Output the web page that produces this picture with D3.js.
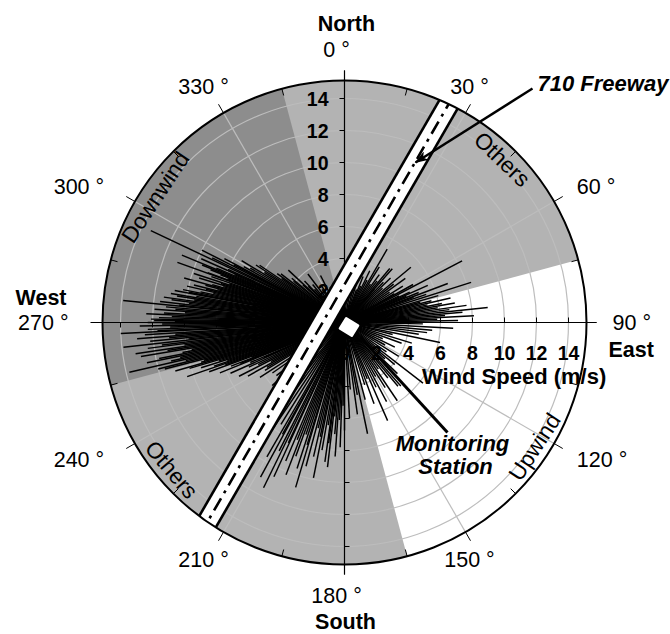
<!DOCTYPE html>
<html>
<head>
<meta charset="utf-8">
<script src="https://cdn.jsdelivr.net/npm/d3@7"></script>
<style>
  body { margin: 0; background: #fff; }
  svg text { font-family: "Liberation Sans", Arial, sans-serif; }
</style>
</head>
<body>
<svg id="chart" width="670" height="634"></svg>
<script>
// ---- data ----
var speedTicks = [2, 4, 6, 8, 10, 12, 14];
var axisLabelsEast = [0, 2, 4, 6, 8, 10, 12, 14];
var angleTicks = [0, 30, 60, 90, 120, 150, 180, 210, 240, 270, 300, 330];

// wind sectors (degrees, compass)
var sectorNames = ["Downwind", "Upwind"];
var sectorStart = [255, 75];
var sectorEnd = [345, 165];

var regionLabels = ["Others", "Downwind", "Others", "Upwind"];
var regionAngles = [44, 303.5, 229.6, 123.2];

var freewayAngle = 30;

// hourly wind observations [direction deg, speed m/s]
var westObs = [
  [240,5.6],[241,6.9],[242,5.2],[243,7.4],[244,6.0],[245,6.6],[246,7.8],[246.5,5.5],[247,6.4],[248,8.4],
  [248.5,7.0],[249,7.6],[249.5,6.2],[250,9.0],[250.5,7.9],[251,10.4],[251.5,8.6],[252,7.7],[252.5,9.4],[253,8.2],
  [253.5,10.1],[254,11.0],[254.5,9.3],[255,9.1],[255.5,11.6],[256,12.0],[256.5,10.2],[257,13.8],[257.5,11.1],[258,10.5],
  [258.5,12.6],[259,11.8],[259.5,10.3],[260,9.7],[260.5,12.9],[261,11.2],[261.5,13.2],[262,10.1],[262.5,12.4],[263,11.5],
  [263.6,13.9],[264,9.8],[264.5,12.2],[265,11.0],[265.5,13.0],[266,10.6],[266.5,12.5],[267.2,14.0],[267.5,11.7],[268,12.3],
  [268.5,10.9],[269,12.8],[269.5,11.4],[270,12.3],[270.3,10.6],[270.6,11.9],[271,12.1],[271.5,11.6],[272,10.8],[272.5,12.4],
  [273,11.3],[273.5,10.0],[274,11.9],[274.5,10.6],[275,11.2],[275.7,13.9],[276,10.4],[276.5,11.6],[277,9.8],[277.5,10.9],
  [278,11.4],[278.5,9.5],[279,10.6],[279.5,11.0],[280,9.4],[280.7,10.8],[281,9.9],[281.5,10.3],[282,9.2],[282.5,8.4],
  [283,10.1],[283.5,8.9],[284,9.7],[284.5,8.2],[285,9.0],[285.5,10.4],[286,8.6],[286.5,7.9],[287,9.5],[287.5,8.1],
  [288,9.9],[288.5,7.6],[289,8.8],[289.8,11.1],[290,9.1],[290.5,7.8],[291,8.3],[291.5,9.0],[292,9.6],[292.5,11.0],
  [293,8.7],[293.5,7.5],[294,9.8],[294.5,8.0],[295.4,13.4],[296,9.2],[296.9,10.0],[297.5,7.8],[298,8.5],[299,7.2],[300,6.8]
];
var northObs = [
  [301,7.5],[302,5.9],[303,6.6],[304,6.4],[305,4.8],[306,5.2],[307.4,5.0],[309,4.1],[310,4.3],[312,3.5],
  [313,4.8],[315,3.2],[316,3.6],[318,2.8],[320,3.1],[323,3.8],[326,2.5],[328,2.7],[331,2.2],[333,3.3],
  [336,2.0],[338,2.4],[342,1.8],[345,2.0],[350,2.1],[355,1.7],[0,1.5],[5,1.6],[10,1.8],[14,2.0],
  [17,2.7],[20,2.2],[22,3.1],[24,2.5],[26,3.6],[28,3.0]
];
var eastObs = [
  [30.2,5.3],[32,4.1],[34,2.9],[36,3.7],[38,3.3],[40,4.4],[41.6,4.5],[42,2.8],[44,3.5],[46,4.0],
  [48,3.2],[50.2,5.4],[52,3.9],[54,4.7],[56,3.4],[58,4.3],[60,3.6],[61,4.9],[62.3,8.3],[64,3.8],
  [65,4.5],[66,5.7],[67,4.2],[68,5.0],[69.3,6.9],[70,4.6],[71,5.4],[72.4,8.3],[74,6.1],[75,4.9],
  [76,5.6],[77,6.8],[78,5.3],[79,6.2],[80,7.0],[81,5.9],[82,7.7],[83,6.6],[84,9.0],[85,7.4],
  [86,6.3],[87,8.1],[88,5.8],[89,7.1],[91,4.9],[93,6.8],[95,5.5],[97,5.2],[99,4.7],[101.8,6.1],
  [104,3.1],[107,4.4],[110,3.8],[113,2.6],[116,3.5],[119,2.9],[122,4.0],[125,3.2],[127.7,6.2],[130,4.1],
  [132,3.4],[134,4.6],[136,3.9],[138.4,5.3],[140,5.2],[142,4.4],[144,3.6],[146,5.9],[148,4.8],[150,3.9],
  [152,5.6],[154,4.5],[156.3,6.7],[158,3.8],[160,5.4],[162,4.1],[165,5.0],[168.3,7.1],[170,4.6],[172,5.8],
  [175,4.2],[177,6.0]
];
var southObs = [
  [180,6.75],[181,5.2],[182,7.8],[183,6.1],[184,8.4],[185,7.0],[186,5.9],[186.7,9.1],[187.5,7.6],[188,8.8],
  [189,6.5],[190,8.1],[191.3,9.9],[192,7.3],[193,8.6],[194,6.8],[195,9.3],[196.5,10.75],[197,8.0],[198,9.6],
  [199,7.4],[200,8.9],[201,10.2],[202,7.9],[203,9.4],[204.6,10.6],[205,8.3],[206.1,11.5],[207,9.0],[208.5,11.0],
  [209,8.0],[210,9.7],[212,7.5],[214,8.6],[216,6.4],[218,7.2],[220,5.8],[223,6.5],[226,5.1],[229,6.0],
  [232,5.4],[235,5.5],[237,6.3],[239,5.8]
];

// ---- setup ----
var cx = 344.5, cy = 322.5, rOuter = 242;
var colors = {light: "#b3b3b3", dark: "#8d8d8d", grid: "#bdbdbd"};

var svg = d3.select("#chart");
var r = d3.scaleLinear().domain([0, 15.125]).range([0, rOuter]);
function rad(deg){ return deg * Math.PI / 180; }
function pt(deg, radius){ return d3.pointRadial(rad(deg), radius); }

var defs = svg.append("defs");
defs.append("clipPath").attr("id", "disc")
  .append("circle").attr("r", rOuter);
defs.append("marker")
    .attr("id", "arrow")
    .attr("viewBox", "0 0 14 10")
    .attr("refX", 13).attr("refY", 5)
    .attr("markerWidth", 14).attr("markerHeight", 10)
    .attr("markerUnits", "userSpaceOnUse")
    .attr("orient", "auto")
  .append("path")
    .attr("d", "M0,0 L14,5 L0,10 L4,5 Z")
    .attr("fill", "#000");

var g = svg.append("g").attr("transform", "translate(" + cx + "," + cy + ")");

// background + sectors
g.append("circle").attr("r", rOuter).attr("fill", colors.light);
var sectorArc = d3.arc().innerRadius(0).outerRadius(rOuter)
  .startAngle(function(d, i){ return rad(sectorStart[i]); })
  .endAngle(function(d, i){ return rad(sectorEnd[i]); });
g.selectAll(".sector")
    .data(sectorNames)
  .enter().append("path")
    .attr("class", "sector")
    .attr("d", function(d, i){ return sectorArc(d, i); })
    .attr("fill", function(d){ return d == "Downwind" ? colors.dark : "#fff"; });

// grid rings + spokes
g.selectAll(".ring")
    .data(speedTicks)
  .enter().append("circle")
    .attr("class", "ring")
    .attr("r", function(d){ return r(d); })
    .attr("fill", "none")
    .attr("stroke", colors.grid)
    .attr("stroke-width", 1.2);
g.selectAll(".spoke")
    .data(angleTicks.filter(function(a){ return a % 90 != 0; }))
  .enter().append("line")
    .attr("class", "spoke")
    .attr("x2", function(d){ return pt(d, rOuter)[0]; })
    .attr("y2", function(d){ return pt(d, rOuter)[1]; })
    .attr("stroke", colors.grid)
    .attr("stroke-width", 1.2);

// axes through the centre
g.append("line").attr("y1", -rOuter - 10).attr("y2", rOuter + 10).attr("stroke", "#000").attr("stroke-width", 1.2);
g.append("line").attr("x1", -rOuter - 12).attr("x2", rOuter + 10).attr("stroke", "#000").attr("stroke-width", 1.2);

// small ticks along the four axes (counter-clockwise side)
speedTicks.forEach(function(v){
  var p = r(v);
  g.append("line").attr("x1", -5).attr("x2", 0).attr("y1", -p).attr("y2", -p).attr("stroke", "#000");
  g.append("line").attr("x1", 0).attr("x2", 5).attr("y1", p).attr("y2", p).attr("stroke", "#000");
  g.append("line").attr("x1", p).attr("x2", p).attr("y1", -5).attr("y2", 0).attr("stroke", "#000");
  g.append("line").attr("x1", -p).attr("x2", -p).attr("y1", 0).attr("y2", 5).attr("stroke", "#000");
});

// speed tick labels
g.selectAll(".nlab")
    .data(speedTicks)
  .enter().append("text")
    .attr("class", "nlab")
    .attr("x", -16)
    .attr("y", function(d){ return -r(d); })
    .attr("dy", "0.36em")
    .attr("text-anchor", "end")
    .attr("font-size", 19.5).attr("font-weight", "bold")
    .text(function(d){ return d; });
g.selectAll(".elab")
    .data(axisLabelsEast)
  .enter().append("text")
    .attr("class", "elab")
    .attr("x", function(d){ return r(d); })
    .attr("y", 37.5)
    .attr("text-anchor", "middle")
    .attr("font-size", 19.5).attr("font-weight", "bold")
    .text(function(d){ return d; });

g.append("text")
  .attr("x", r(10.6)).attr("y", 61)
  .attr("text-anchor", "middle")
  .attr("font-size", 22).attr("font-weight", "bold")
  .text("Wind Speed (m/s)");

// region labels, following the rim
g.selectAll(".region")
    .data(regionLabels)
  .enter().append("text")
    .attr("class", "region")
    .attr("transform", function(d, i){
      var a = regionAngles[i], p = pt(a, 227);
      var rot = Math.cos(rad(a)) >= 0 ? a : a - 180;
      return "translate(" + p[0] + "," + p[1] + ") rotate(" + rot + ")";
    })
    .attr("dy", "0.35em")
    .attr("text-anchor", "middle")
    .attr("font-size", 22.5)
    .text(function(d){ return d; });

// wind vectors
var obs = westObs.concat(northObs, eastObs, southObs);
g.selectAll(".wind")
    .data(obs)
  .enter().append("line")
    .attr("class", "wind")
    .attr("x2", function(d){ return pt(d[0], r(d[1]))[0]; })
    .attr("y2", function(d){ return pt(d[0], r(d[1]))[1]; })
    .attr("stroke", "#000")
    .attr("stroke-width", 1.45);

// freeway strip
var fw = g.append("g").attr("clip-path", "url(#disc)")
  .append("g").attr("transform", "rotate(" + freewayAngle + ")");
var off = -19, half = 10;
fw.append("rect").attr("x", off - half).attr("width", half * 2).attr("y", -260).attr("height", 520).attr("fill", "#fff");
[off - half, off + half].forEach(function(x){
  fw.append("line").attr("x1", x).attr("x2", x).attr("y1", -260).attr("y2", 260)
    .attr("stroke", "#000").attr("stroke-width", 2.6);
});
fw.append("line").attr("x1", off).attr("x2", off).attr("y1", -250).attr("y2", 260)
  .attr("stroke", "#000").attr("stroke-width", 2.6)
  .attr("stroke-dasharray", "14,6,3,6");

// outer rim + degree ticks
g.append("circle").attr("r", rOuter).attr("fill", "none").attr("stroke", "#000").attr("stroke-width", 2);
d3.range(0, 360, 15).forEach(function(a){
  var major = a % 30 == 0;
  var p1 = pt(a, major ? rOuter : rOuter - 7), p2 = pt(a, major ? rOuter + 10 : rOuter);
  g.append("line").attr("x1", p1[0]).attr("y1", p1[1]).attr("x2", p2[0]).attr("y2", p2[1])
    .attr("stroke", "#000").attr("stroke-width", 1);
});

// degree labels
angleTicks.forEach(function(a){
  var p = pt(a, 266), s = Math.sin(rad(a)), c = Math.cos(rad(a));
  var anchor = s > 0.8 ? "start" : s < -0.8 ? "end" : "middle";
  var dx = s > 0.8 ? 2 : s < -0.8 ? -10 : -8;
  g.append("text")
    .attr("x", p[0] + dx).attr("y", p[1] - c * 7)
    .attr("dy", "0.36em")
    .attr("text-anchor", anchor)
    .attr("font-size", 21.5)
    .text(a + " \u00b0");
});

// compass words
var cardinal = [
  {t: "North", x: 2, y: -291.5, a: "middle"},
  {t: "South", x: 1, y: 306, a: "middle"},
  {t: "West", x: -278, y: -18, a: "end"},
  {t: "East", x: 264, y: 34.5, a: "start"}
];
cardinal.forEach(function(d){
  g.append("text").attr("x", d.x).attr("y", d.y).attr("text-anchor", d.a)
    .attr("font-size", 21.5).attr("font-weight", "bold").text(d.t);
});

// monitoring station
g.append("rect")
  .attr("x", -9).attr("y", -8).attr("width", 18).attr("height", 16).attr("rx", 2)
  .attr("transform", "translate(4.5,4.5) rotate(32)")
  .attr("fill", "#fff").attr("stroke", "#000").attr("stroke-width", 1.6);
g.append("line").attr("x1", 16).attr("y1", 15).attr("x2", 103).attr("y2", 110)
  .attr("stroke", "#000").attr("stroke-width", 3);
var st = g.append("text").attr("text-anchor", "middle")
  .attr("font-size", 22).attr("font-weight", "bold").attr("font-style", "italic");
st.append("tspan").attr("x", 108).attr("y", 128.5).text("Monitoring");
st.append("tspan").attr("x", 111).attr("y", 151.5).text("Station");

// freeway pointer
g.append("line").attr("x1", 188).attr("y1", -234).attr("x2", 71).attr("y2", -160)
  .attr("stroke", "#000").attr("stroke-width", 2.4)
  .attr("marker-end", "url(#arrow)");
g.append("text").attr("x", 193).attr("y", -231.5)
  .attr("font-size", 22).attr("font-weight", "bold").attr("font-style", "italic")
  .text("710 Freeway");
</script>
</body>
</html>
